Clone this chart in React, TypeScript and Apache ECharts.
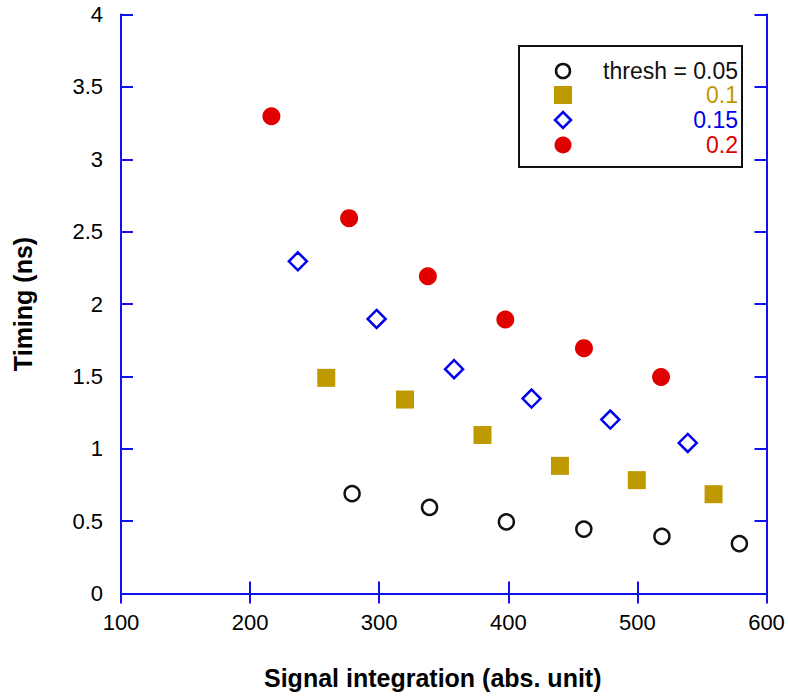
import React, { useEffect, useRef } from "react";
import * as echarts from "echarts";

const seriesNames = ["thresh = 0.05", "0.1", "0.15", "0.2"];
const colors = ["#111111", "#bf9900", "#0000ee", "#e00000"];

const xBlack = [279, 339, 398.5, 458.5, 519, 579];
const yBlack = [0.69, 0.595, 0.495, 0.445, 0.395, 0.345];
const xGold = [259, 320, 380, 440, 499.5, 559];
const yGold = [1.49, 1.34, 1.095, 0.882, 0.783, 0.686];
const xBlue = [237, 298, 358, 418, 479, 539];
const yBlue = [2.295, 1.897, 1.55, 1.347, 1.202, 1.04];
const xRed = [216.5, 276.7, 337.7, 397.7, 458.6, 518.3];
const yRed = [3.297, 2.593, 2.192, 1.893, 1.695, 1.496];

const zip = (xs: number[], ys: number[]) => xs.map((x, i) => [x, ys[i]]);

export default function App() {
  const ref = useRef<HTMLDivElement>(null);
  useEffect(() => {
    if (!ref.current) return;
    const chart = echarts.init(ref.current, null, { renderer: "svg" });
    const axisBlue = "#1010f0";
    const font = "Liberation Sans, Arial, sans-serif";
    const commonX = {
      type: "value" as const,
      min: 100,
      max: 600,
      interval: 100,
      splitLine: { show: false },
      axisLine: { show: true, lineStyle: { color: axisBlue, width: 2 } },
      axisTick: { show: true, inside: true, length: 12, lineStyle: { color: axisBlue, width: 2 } },
    };
    const commonY = {
      type: "value" as const,
      min: 0,
      max: 4,
      interval: 0.5,
      splitLine: { show: false },
      axisLine: { show: true, lineStyle: { color: axisBlue, width: 2 } },
      axisTick: { show: true, inside: true, length: 12, lineStyle: { color: axisBlue, width: 2 } },
    };
    const diamond = "path://M0,-1 L1,0 L0,1 L-1,0 Z";
    const legendX = 563;
    const legendRows = [71, 95, 120, 145];
    const legendMarkers: any[] = [
      { type: "circle", x: legendX, y: legendRows[0], shape: { cx: 0, cy: 0, r: 7 }, style: { fill: "#fff", stroke: colors[0], lineWidth: 2.5 } },
      { type: "rect", x: legendX, y: legendRows[1], shape: { x: -9, y: -9, width: 18, height: 18 }, style: { fill: colors[1] } },
      { type: "polygon", x: legendX, y: legendRows[2], shape: { points: [[0, -8], [8, 0], [0, 8], [-8, 0]] }, style: { fill: "#fff", stroke: colors[2], lineWidth: 2.5 } },
      { type: "circle", x: legendX, y: legendRows[3], shape: { cx: 0, cy: 0, r: 8.5 }, style: { fill: colors[3] } },
    ];
    const legendTexts = seriesNames.map((n, i) => ({
      type: "text",
      x: 738,
      y: legendRows[i],
      style: { text: n, fill: colors[i], font: `23px ${font}`, textAlign: "right", textVerticalAlign: "middle" },
    }));

    chart.setOption({
      animation: false,
      backgroundColor: "#ffffff",
      grid: { left: 121, top: 14.5, right: 21.5, bottom: 102.5, containLabel: false },
      xAxis: [
        {
          ...commonX,
          position: "bottom",
          name: "Signal integration (abs. unit)",
          nameLocation: "middle",
          nameGap: 72,
          nameTextStyle: { fontFamily: font, fontSize: 25, fontWeight: "bold", color: "#000", padding: [0, 22, 0, 0] },
          axisLabel: { show: true, fontFamily: font, fontSize: 22, color: "#000", margin: 18 },
        },
        { ...commonX, position: "top", axisLabel: { show: false }, axisTick: { ...commonX.axisTick, length: 10 } },
      ],
      yAxis: [
        {
          ...commonY,
          position: "left",
          name: "Timing (ns)",
          nameLocation: "middle",
          nameGap: 86,
          nameTextStyle: { fontFamily: font, fontSize: 25, fontWeight: "bold", color: "#000" },
          axisLabel: { show: true, fontFamily: font, fontSize: 22, color: "#000", margin: 18 },
        },
        { ...commonY, position: "right", axisLabel: { show: false } },
      ],
      series: [
        {
          name: seriesNames[0],
          type: "scatter",
          data: zip(xBlack, yBlack),
          symbol: "circle",
          symbolSize: 15,
          itemStyle: { color: "#fff", borderColor: colors[0], borderWidth: 2.5, opacity: 1 },
        },
        {
          name: seriesNames[1],
          type: "scatter",
          data: zip(xGold, yGold),
          symbol: "rect",
          symbolSize: 18,
          itemStyle: { color: colors[1], opacity: 1 },
        },
        {
          name: seriesNames[2],
          type: "scatter",
          data: zip(xBlue, yBlue),
          symbol: diamond,
          symbolSize: 18,
          itemStyle: { color: "#fff", borderColor: colors[2], borderWidth: 2.5, opacity: 1 },
        },
        {
          name: seriesNames[3],
          type: "scatter",
          data: zip(xRed, yRed),
          symbol: "circle",
          symbolSize: 18,
          itemStyle: { color: colors[3], opacity: 1 },
        },
      ],
      graphic: [
        {
          type: "rect",
          shape: { x: 519, y: 46, width: 223, height: 121 },
          style: { fill: "#fff", stroke: "#111", lineWidth: 2 },
          z: 10,
        },
        ...legendMarkers.map((m) => ({ ...m, z: 11 })),
        ...legendTexts.map((t) => ({ ...t, z: 11 })),
      ],
    });
    return () => chart.dispose();
  }, []);
  return <div ref={ref} style={{ width: 788, height: 696, position: "absolute", left: 0, top: 0 }} />;
}
